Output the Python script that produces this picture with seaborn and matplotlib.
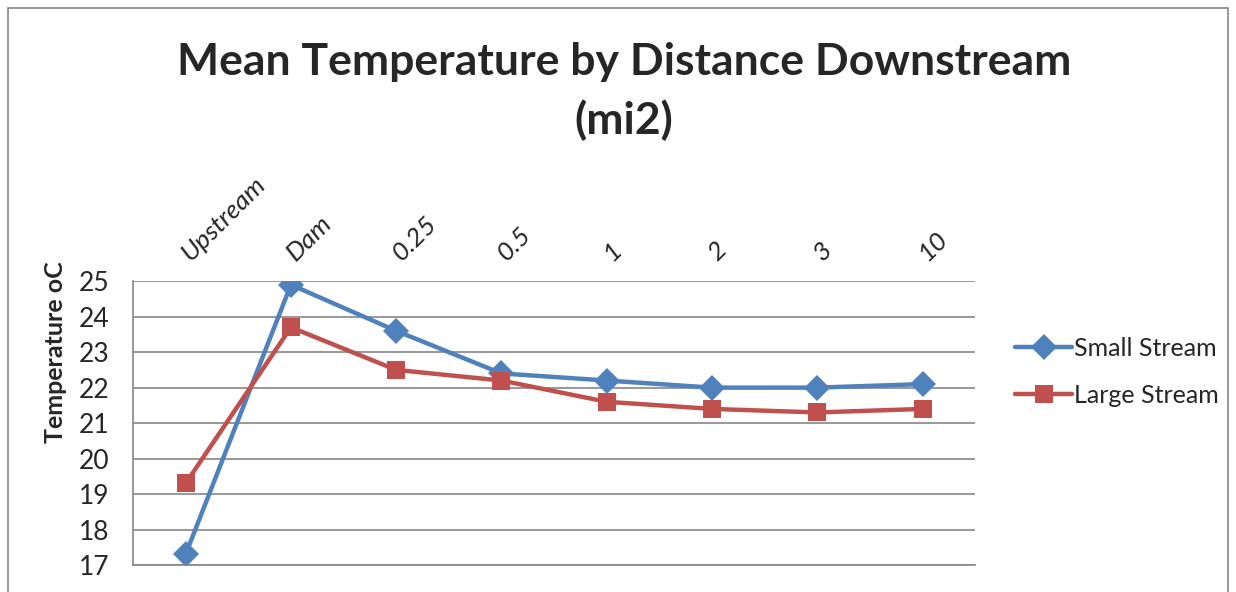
import pandas as pd
import matplotlib.pyplot as plt
import matplotlib.transforms as mtransforms
import seaborn as sns
from matplotlib.patches import Rectangle

# Data
sites = ["Upstream", "Dam", "0.25", "0.5", "1", "2", "3", "10"]
small_stream = [17.3, 24.9, 23.6, 22.4, 22.2, 22.0, 22.0, 22.1]
large_stream = [19.3, 23.7, 22.5, 22.2, 21.6, 21.4, 21.3, 21.4]

df = pd.DataFrame({
    "Site": sites * 2,
    "Temperature": small_stream + large_stream,
    "Stream": ["Small Stream"] * len(sites) + ["Large Stream"] * len(sites),
})

sns.set_style("white")
plt.rcParams['font.family'] = ['Lato', 'DejaVu Sans']

fig = plt.figure(figsize=(12.36, 5.92), dpi=100)
ax = fig.add_axes([0.1076, 0.0456, 0.789 - 0.1076, 0.525 - 0.0456])

palette = {"Small Stream": "#4F81BD", "Large Stream": "#C0504D"}
markers = {"Small Stream": "D", "Large Stream": "s"}
sns.lineplot(data=df, x="Site", y="Temperature", hue="Stream", style="Stream",
             markers=markers, dashes=False, palette=palette, sort=False,
             linewidth=3.2, markersize=13, markeredgewidth=0, ax=ax)

ax.set_xlim(-0.5, 7.5)
ax.set_ylim(17, 25)
ax.set_yticks(range(17, 26))
ax.yaxis.grid(True, color="#868686", linewidth=1.2)
ax.xaxis.grid(False)
for side in ["top", "right"]:
    ax.spines[side].set_visible(False)
for side in ["left", "bottom"]:
    ax.spines[side].set_color("#868686")
    ax.spines[side].set_linewidth(1.2)

ax.xaxis.tick_top()
ax.tick_params(axis="x", length=0, pad=12, labelsize=19)
ax.tick_params(axis="y", length=0, pad=17, labelsize=19)
shift = mtransforms.ScaledTranslation(8 / 100, 0, fig.dpi_scale_trans)
for lbl in ax.get_xticklabels():
    lbl.set_rotation(45)
    lbl.set_ha("left")
    lbl.set_va("bottom")
    lbl.set_rotation_mode("anchor")
    lbl.set_style("italic")
    lbl.set_transform(lbl.get_transform() + shift)
ax.set_xlabel("")
ax.set_ylabel("Temperature oC", fontsize=18, fontweight="bold")
ax.yaxis.set_label_coords(-0.078, 0.75)

leg = ax.legend(loc="center left", bbox_to_anchor=(1.047, 0.68), frameon=False,
                borderpad=0, borderaxespad=0, fontsize=18, handlelength=2.3,
                handletextpad=0.05, labelspacing=0.95)
for h in leg.legend_handles:
    h.set_linewidth(3.2)

fig.text(0.505, 0.895, "Mean Temperature by Distance Downstream", ha="center",
         va="center", fontsize=32, fontweight="bold")
fig.text(0.505, 0.797, "(mi2)", ha="center", va="center", fontsize=32, fontweight="bold")

fig.patches.append(Rectangle((8 / 1236, -0.1), 1220 / 1236, 1.1 - 8 / 592,
                             transform=fig.transFigure, fill=False,
                             edgecolor="#868686", linewidth=1.2))

fig.savefig("out.png", dpi=100)
